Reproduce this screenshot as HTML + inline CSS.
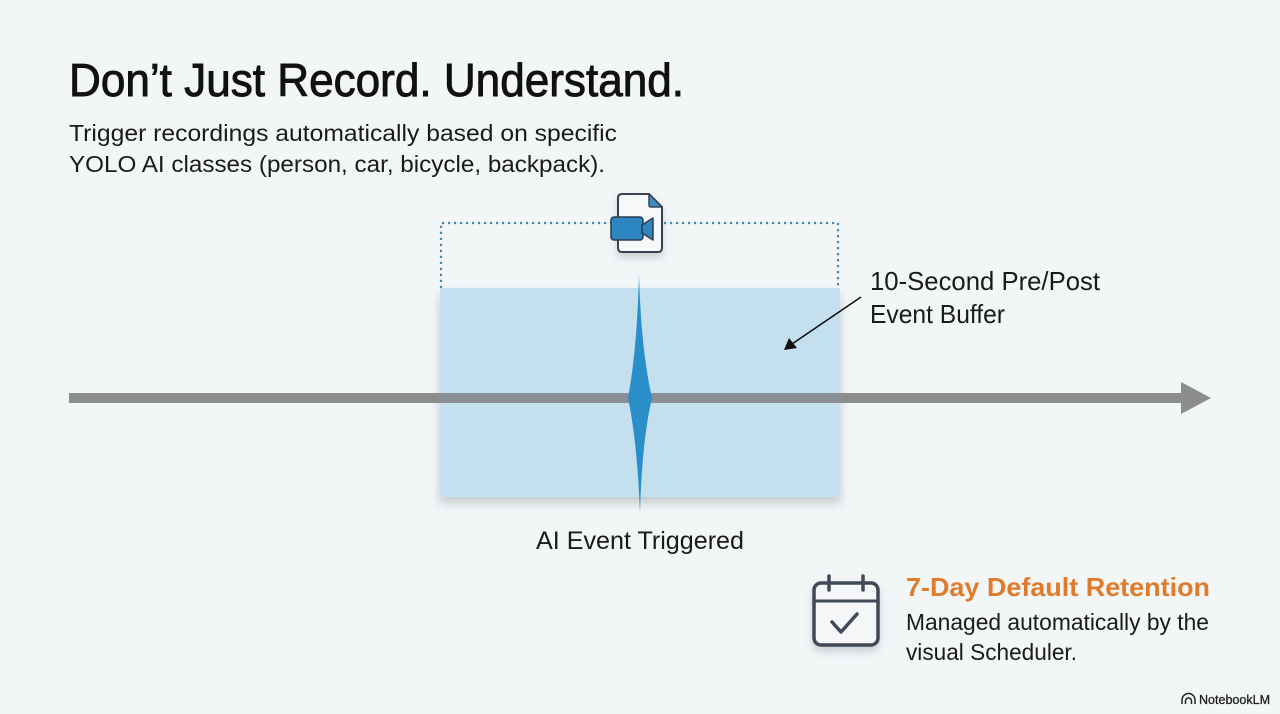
<!DOCTYPE html>
<html><head><meta charset="utf-8"><style>
html,body{margin:0;padding:0;background:#f2f6f7;}
svg{display:block;}
text{font-family:"Liberation Sans",Arial,sans-serif;}
</style></head><body>
<svg width="1280" height="714" viewBox="0 0 1280 714" xmlns="http://www.w3.org/2000/svg">
<defs>
<filter id="sh" x="-10%" y="-10%" width="120%" height="130%">
<feDropShadow dx="0" dy="6" stdDeviation="5" flood-color="#6b7480" flood-opacity="0.35"/>
</filter>
<filter id="sh2" x="-30%" y="-30%" width="160%" height="170%">
<feDropShadow dx="0" dy="5" stdDeviation="4" flood-color="#6b7480" flood-opacity="0.3"/>
</filter>
</defs>
<rect width="1280" height="714" fill="#f2f6f7"/>

<!-- Title -->
<text x="69" y="96" font-size="46" fill="#111" stroke="#111" stroke-width="0.9" textLength="615" lengthAdjust="spacingAndGlyphs">Don’t Just Record. Understand.</text>
<text x="69" y="141" font-size="23" fill="#1a1a1a" textLength="548" lengthAdjust="spacingAndGlyphs">Trigger recordings automatically based on specific</text>
<text x="69" y="172" font-size="23" fill="#1a1a1a" textLength="536" lengthAdjust="spacingAndGlyphs">YOLO AI classes (person, car, bicycle, backpack).</text>

<!-- dotted bracket -->
<path d="M441 288 V223 H838 V288" fill="none" stroke="#4a87ab" stroke-width="2.2" stroke-dasharray="2.2 3.8"/>

<!-- blue buffer rect -->
<rect x="440" y="288" width="400" height="209" fill="#c4dfee" filter="url(#sh)"/>

<!-- timeline -->
<rect x="69" y="393" width="1114" height="10" fill="#8b8d8e"/>
<rect x="440" y="393" width="400" height="10" fill="#8a8f96"/>
<polygon points="1181,382 1211,398 1181,414" fill="#8b8d8e"/>

<!-- spike -->
<path d="M639 274 Q641 350 652 398 Q642 440 640 513 Q637 440 628 398 Q637 350 639 274 Z" fill="#2a8fc9"/>

<!-- file icon -->
<g filter="url(#sh2)">
<path d="M622 194 H649 L662 207 V248 Q662 252 658 252 H622 Q618 252 618 248 V198 Q618 194 622 194 Z" fill="#f6f8f9" stroke="#3a4250" stroke-width="2"/>
</g>
<path d="M649 194 V205 Q649 207 651 207 H662 Z" fill="#3a8fc8" stroke="#3a4250" stroke-width="1.5" stroke-linejoin="round"/>
<rect x="611" y="217" width="32" height="23" rx="3" fill="#2e86c1" stroke="#2c3e50" stroke-width="1.5"/>
<path d="M642 225 L653 218 V240 L642 233 Z" fill="#2e86c1" stroke="#2c3e50" stroke-width="1.5" stroke-linejoin="round"/>

<!-- label arrow -->
<line x1="861" y1="297" x2="792" y2="344" stroke="#111" stroke-width="1.6"/>
<polygon points="784,350 789,338 797,348" fill="#111"/>
<text x="870" y="290" font-size="26" fill="#1a1a1a" textLength="230" lengthAdjust="spacingAndGlyphs">10-Second Pre/Post</text>
<text x="870" y="323" font-size="26" fill="#1a1a1a" textLength="135" lengthAdjust="spacingAndGlyphs">Event Buffer</text>

<text x="536" y="549" font-size="25" fill="#1a1a1a" textLength="208" lengthAdjust="spacingAndGlyphs">AI Event Triggered</text>

<!-- calendar -->
<g filter="url(#sh2)">
<rect x="814" y="583" width="64" height="62" rx="7" fill="#f4f6f8" stroke="#414857" stroke-width="3.5"/>
</g>
<line x1="814" y1="601" x2="878" y2="601" stroke="#414857" stroke-width="3"/>
<line x1="829" y1="576" x2="829" y2="590" stroke="#414857" stroke-width="3.5" stroke-linecap="round"/>
<line x1="863" y1="576" x2="863" y2="590" stroke="#414857" stroke-width="3.5" stroke-linecap="round"/>
<path d="M832 622 L841 632 L857 614" fill="none" stroke="#414857" stroke-width="3.5" stroke-linecap="round" stroke-linejoin="round"/>

<text x="906" y="596" font-size="26" font-weight="bold" fill="#e07b2c" textLength="304" lengthAdjust="spacingAndGlyphs">7-Day Default Retention</text>
<text x="906" y="630" font-size="23" fill="#1a1a1a" textLength="303" lengthAdjust="spacingAndGlyphs">Managed automatically by the</text>
<text x="906" y="660" font-size="23" fill="#1a1a1a" textLength="171" lengthAdjust="spacingAndGlyphs">visual Scheduler.</text>

<!-- NotebookLM -->
<g fill="none" stroke="#222" stroke-width="1.5">
<path d="M1182 704 V700 A6.5 6.5 0 0 1 1195 700 V704"/>
<path d="M1185.5 704 V701 A3 3 0 0 1 1191.5 701 V704"/>
</g>
<text x="1199" y="704" font-size="12.5" fill="#222" stroke="#222" stroke-width="0.3" textLength="71" lengthAdjust="spacingAndGlyphs">NotebookLM</text>
</svg>
</body></html>
